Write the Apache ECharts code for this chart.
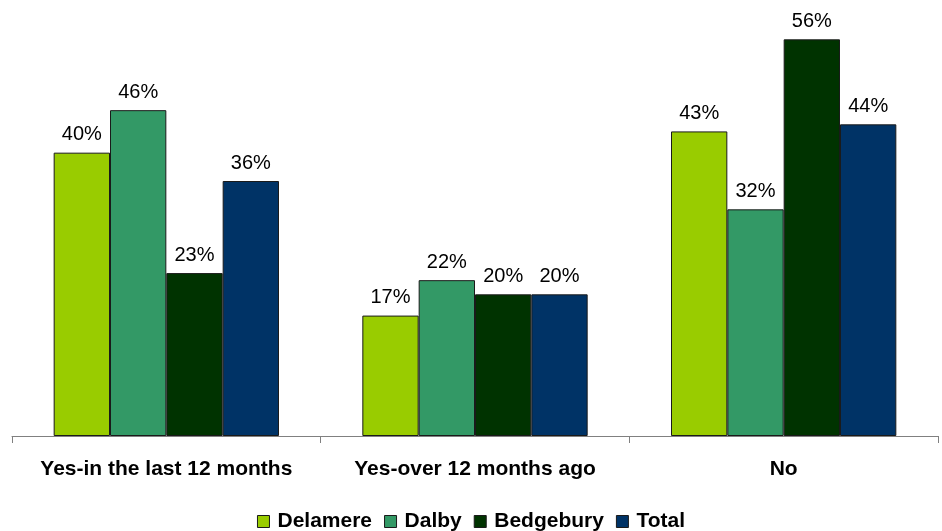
<!DOCTYPE html>
<html>
<head>
<meta charset="utf-8">
<script src="https://cdn.jsdelivr.net/npm/echarts@6/dist/echarts.min.js"></script>
<style>
  html, body { margin: 0; padding: 0; background: #fff; }
  #chart { width: 942px; height: 531px; }
</style>
</head>
<body>
<div id="chart"></div>
<script>
// Survey answers by forest site (percent of respondents)
const categories = ['Yes-in the last 12 months', 'Yes-over 12 months ago', 'No'];
const delamere   = [40, 17, 43];
const dalby      = [46, 22, 32];
const bedgebury  = [23, 20, 56];
const total      = [36, 20, 44];

const seriesNames  = ['Delamere', 'Dalby', 'Bedgebury', 'Total'];
const seriesValues = [delamere, dalby, bedgebury, total];
const seriesColors = ['#99CC00', '#339966', '#003300', '#003366'];

const FONT = 'Arial, "Liberation Sans", sans-serif';

const chart = echarts.init(document.getElementById('chart'), null, { renderer: 'canvas' });

chart.setOption({
  backgroundColor: '#ffffff',
  animation: false,
  grid: { left: 12, top: 11, width: 926, bottom: 95, containLabel: false },
  legend: {
    data: seriesNames,
    left: 'center',
    top: 506,
    itemWidth: 12,
    itemHeight: 12,
    itemGap: 12,
    icon: 'rect',
    itemStyle: { borderColor: '#1a1a1a', borderWidth: 1 },
    textStyle: { fontFamily: FONT, fontSize: 21, fontWeight: 'bold', color: '#000', padding: [0, 0, 0, 3] }
  },
  xAxis: {
    type: 'category',
    data: categories,
    axisLine: { lineStyle: { color: '#808080', width: 1 } },
    axisTick: { show: true, length: 7, lineStyle: { color: '#808080' } },
    axisLabel: { interval: 0, margin: 23, fontFamily: FONT, fontSize: 21, fontWeight: 'bold', color: '#000' }
  },
  yAxis: {
    type: 'value',
    min: 0,
    max: 60,
    interval: 10,
    show: false,
    splitLine: { show: false }
  },
  series: seriesNames.map((name, i) => ({
    name: name,
    type: 'bar',
    data: seriesValues[i],
    barGap: '0%',
    barCategoryGap: '27%',
    itemStyle: { color: seriesColors[i], borderColor: '#1a1a1a', borderWidth: 1 },
    label: {
      show: true,
      position: 'top',
      distance: 8,
      formatter: '{c}%',
      fontFamily: FONT,
      fontSize: 20,
      color: '#000'
    }
  }))
});
</script>
</body>
</html>
